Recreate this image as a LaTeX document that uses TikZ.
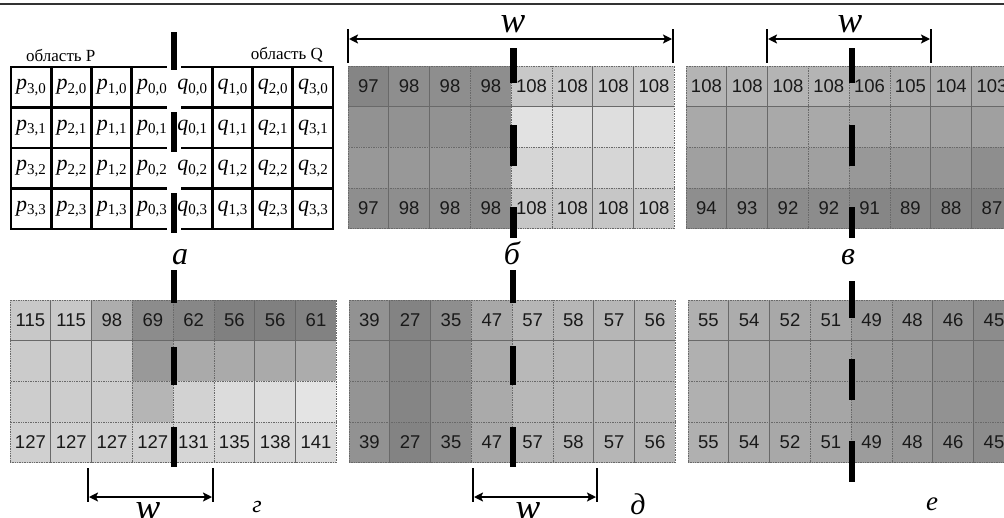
\documentclass[tikz,border=0pt]{standalone}
\usepackage{fontspec}
\setmainfont{Liberation Serif}
\newfontfamily\numfont{Liberation Sans}
\usetikzlibrary{arrows.meta}
\tikzset{
  gcell/.style={draw={rgb,255:red,105;green,105;blue,105}, densely dotted, line width=0.7pt,
    minimum width=40.8pt, minimum height=40.7pt, inner sep=0pt,
    font=\numfont\fontsize{18.5}{18.5}\selectfont, text={rgb,255:red,25;green,25;blue,25}},
  acell/.style={minimum width=40.25pt, minimum height=40.5pt, inner sep=0pt},
  gridline/.style={line width=2.6pt, black, line cap=rect},
  sepbar/.style={fill=black},
  dimline/.style={line width=2pt, {Stealth[length=9pt,width=9pt,inset=2pt]}-{Stealth[length=9pt,width=9pt,inset=2pt]}},
  dimtick/.style={line width=2pt},
  wlabel/.style={font=\itshape\fontsize{37}{37}\selectfont, inner sep=0pt, anchor=base},
  plabel/.style={inner sep=0pt, anchor=base},
}
\newcommand\cellrow[5]{%
  \foreach \c/\n [count=\i from 0] in {#5} {
    \node[gcell, fill={rgb,255:red,\c;green,\c;blue,\c}] (#1-#3-\i)
      at ({#2+40.8*\i+20.4}, {#4+40.7*#3+20.35}) {\n};
  }}
\newcommand\pqlab[3]{{\itshape #1}\raisebox{-3.5pt}{\fontsize{15}{15}\selectfont #2,#3}}
\begin{document}
\begin{tikzpicture}[x=1pt, y=-1pt]
\useasboundingbox (0,0) rectangle (1004,517);
\fill[white] (0,0) rectangle (1004,517);
\draw[line width=1.3pt, color=black!80] (0,4) -- (1004,4);

% ---------- panel a ----------
\node[anchor=west, inner sep=0pt, font=\fontsize{17}{17}\selectfont] (regP) at (26,55) {область P};
\node[anchor=east, inner sep=0pt, font=\fontsize{17}{17}\selectfont] (regQ) at (323,55) {область Q};
\foreach \j in {0,...,3} {
  \foreach \k [count=\i from 0] in {3,2,1,0} {
    \node[acell, font=\fontsize{22}{22}\selectfont] (pa-\j-\i) at ({11+40.25*\i+20.125}, {67+40.5*\j+20.25}) {\pqlab{p}{\k}{\j}};
  }
  \foreach \k [count=\i from 4] in {0,1,2,3} {
    \node[acell, font=\fontsize{22}{22}\selectfont] (pa-\j-\i) at ({11+40.25*\i+20.125}, {67+40.5*\j+20.25}) {\pqlab{q}{\k}{\j}};
  }
}
\foreach \j in {0,...,4} {
  \draw[gridline] (11,{67+40.5*\j}) -- (166,{67+40.5*\j});
  \draw[gridline] (182,{67+40.5*\j}) -- (333,{67+40.5*\j});
}
\foreach \i in {0,1,2,3,5,6,7,8} {
  \draw[gridline] ({11+40.25*\i},67) -- ({11+40.25*\i},229);
}
\fill[sepbar] (170.5,32) rectangle (176.5,70);
\fill[sepbar] (170.5,112) rectangle (176.5,152);
\fill[sepbar] (170.5,193) rectangle (176.5,233);
\node[plabel, font=\itshape\fontsize{32}{32}\selectfont] (la) at (180,264) {а};

% ---------- panel b ----------
\cellrow{pb}{348}{0}{66}{133/97,142/98,142/98,142/98,200/108,200/108,200/108,202/108}
\cellrow{pb}{348}{1}{66}{146/{},146/{},146/{},143/{},226/{},224/{},222/{},222/{}}
\cellrow{pb}{348}{2}{66}{152/{},152/{},152/{},150/{},214/{},214/{},214/{},214/{}}
\cellrow{pb}{348}{3}{66}{142/97,142/98,142/98,142/98,198/108,198/108,198/108,200/108}
\fill[sepbar] (510,48) rectangle (516.5,83);
\fill[sepbar] (510,125) rectangle (516.5,166);
\fill[sepbar] (510,207) rectangle (516.5,238);
\coordinate (bT1) at (348,29); \coordinate (bB1) at (348,63);
\coordinate (bT2) at (673,29); \coordinate (bB2) at (673,63);
\coordinate (bA1) at (349,39); \coordinate (bA2) at (672,39);
\draw[dimtick] (bT1) -- (bB1);
\draw[dimtick] (bT2) -- (bB2);
\draw[dimline] (bA1) -- (bA2);
\node[wlabel] (wb) at (513,32) {w};
\node[plabel, font=\itshape\fontsize{32}{32}\selectfont] (lb) at (512,264) {б};

% ---------- panel v ----------
\cellrow{pv}{686}{0}{66}{180/108,180/108,180/108,180/108,172/106,172/105,172/104,170/103}
\cellrow{pv}{686}{1}{66}{169/{},169/{},169/{},169/{},164/{},164/{},162/{},160/{}}
\cellrow{pv}{686}{2}{66}{160/{},160/{},160/{},160/{},152/{},152/{},150/{},142/{}}
\cellrow{pv}{686}{3}{66}{142/94,142/93,140/92,140/92,134/91,134/89,132/88,130/87}
\fill[sepbar] (848.5,48) rectangle (855,83);
\fill[sepbar] (848.5,125) rectangle (855,166);
\fill[sepbar] (848.5,207) rectangle (855,238);
\coordinate (vT1) at (767,29); \coordinate (vB1) at (767,63);
\coordinate (vT2) at (931,29); \coordinate (vB2) at (931,63);
\coordinate (vA1) at (768,39); \coordinate (vA2) at (930,39);
\draw[dimtick] (vT1) -- (vB1);
\draw[dimtick] (vT2) -- (vB2);
\draw[dimline] (vA1) -- (vA2);
\node[wlabel] (wv) at (850,32) {w};
\node[plabel, font=\itshape\fontsize{32}{32}\selectfont] (lv) at (848,264) {в};

% ---------- panel g ----------
\cellrow{pg}{10}{0}{300}{200/115,200/115,173/98,140/69,135/62,128/56,128/56,130/61}
\cellrow{pg}{10}{1}{300}{203/{},203/{},203/{},153/{},170/{},170/{},170/{},172/{}}
\cellrow{pg}{10}{2}{300}{205/{},205/{},205/{},181/{},210/{},220/{},222/{},228/{}}
\cellrow{pg}{10}{3}{300}{208/127,208/127,208/127,208/127,214/131,214/135,216/138,218/141}
\fill[sepbar] (170.5,270) rectangle (177,303);
\fill[sepbar] (170.5,347) rectangle (177,385);
\fill[sepbar] (170.5,427) rectangle (177,467);
\coordinate (gT1) at (88,468); \coordinate (gB1) at (88,502);
\coordinate (gT2) at (213,468); \coordinate (gB2) at (213,502);
\coordinate (gA1) at (89,497); \coordinate (gA2) at (212,497);
\draw[dimtick] (gT1) -- (gB1);
\draw[dimtick] (gT2) -- (gB2);
\draw[dimline] (gA1) -- (gA2);
\node[wlabel] (wg) at (148,519) {w};
\node[plabel, font=\itshape\fontsize{24}{24}\selectfont] (lg) at (257,512) {г};

% ---------- panel d ----------
\cellrow{pd}{349}{0}{300}{146/39,131/27,142/35,168/47,182/57,182/58,182/57,182/56}
\cellrow{pd}{349}{1}{300}{148/{},133/{},144/{},170/{},184/{},184/{},184/{},184/{}}
\cellrow{pd}{349}{2}{300}{148/{},133/{},144/{},170/{},184/{},184/{},184/{},184/{}}
\cellrow{pd}{349}{3}{300}{146/39,131/27,142/35,168/47,182/57,182/58,182/57,182/56}
\fill[sepbar] (509.5,270) rectangle (516,303);
\fill[sepbar] (509.5,346) rectangle (516,385);
\fill[sepbar] (509.5,427) rectangle (516,467);
\coordinate (dT1) at (473,468); \coordinate (dB1) at (473,502);
\coordinate (dT2) at (597,468); \coordinate (dB2) at (597,502);
\coordinate (dA1) at (474,497); \coordinate (dA2) at (596,497);
\draw[dimtick] (dT1) -- (dB1);
\draw[dimtick] (dT2) -- (dB2);
\draw[dimline] (dA1) -- (dA2);
\node[wlabel] (wd) at (528,519) {w};
\node[plabel, font=\itshape\fontsize{30}{30}\selectfont] (ld) at (638,514) {д};

% ---------- panel e ----------
\cellrow{pe}{688}{0}{300}{176/55,172/54,168/52,166/51,156/49,152/48,146/46,140/45}
\cellrow{pe}{688}{1}{300}{176/{},172/{},168/{},166/{},156/{},152/{},146/{},140/{}}
\cellrow{pe}{688}{2}{300}{176/{},172/{},168/{},166/{},156/{},152/{},146/{},140/{}}
\cellrow{pe}{688}{3}{300}{176/55,172/54,168/52,166/51,156/49,152/48,146/46,140/45}
\fill[sepbar] (848.5,281) rectangle (855,318);
\fill[sepbar] (848.5,359) rectangle (855,400);
\fill[sepbar] (848.5,441) rectangle (855,482);
\node[plabel, font=\itshape\fontsize{27}{27}\selectfont] (le) at (932,510) {е};
\end{tikzpicture}
\end{document}
